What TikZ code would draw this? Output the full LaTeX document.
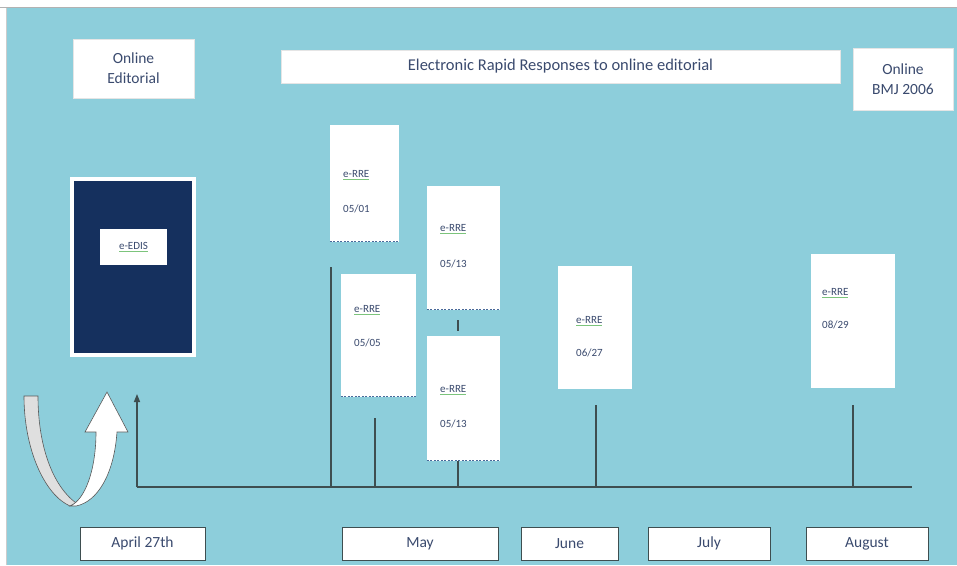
\documentclass[tikz,border=0pt]{standalone}
\usepackage{fontspec}
\setmainfont{Carlito}
\usetikzlibrary{arrows.meta}
\definecolor{bg}{HTML}{8DCEDB}
\definecolor{txt}{HTML}{3A4A6E}
\definecolor{navy}{HTML}{15305E}
\definecolor{lineg}{HTML}{3E4E50}
\definecolor{sqgreen}{HTML}{7CC47C}
\definecolor{shad}{HTML}{4A6A9A}
\newcommand\squig[1]{\setbox0\hbox{#1}\rlap{\color{sqgreen}\rule[-1.8pt]{\wd0}{0.7pt}}\box0}
\tikzset{
  lab/.style={draw=white!80!gray, line width=0.6pt, fill=white, inner sep=0pt, text=txt, font=\fontsize{15.5}{20}\selectfont, align=center},
  month/.style={draw=lineg, line width=0.8pt, fill=white, inner sep=0pt, text=txt, font=\fontsize{15.5}{18}\selectfont, minimum height=33pt},
  rre/.style={fill=white, inner sep=0pt},
  rtext/.style={anchor=west, text=txt, font=\fontsize{11}{13}\selectfont, inner sep=0pt},
  tline/.style={draw=lineg, line width=1.4pt},
  shadowline/.style={draw=shad, line width=1.2pt, dash pattern=on 2pt off 1.5pt}
}
\begin{document}
\begin{tikzpicture}[x=1pt,y=-1pt]
\useasboundingbox (0,0) rectangle (957,565);
\fill[white] (0,0) rectangle (957,565);
\fill[bg] (6,8) rectangle (957,565);
\draw[gray!60, line width=0.8pt] (0,7) -- (957,7);
\draw[gray!40, line width=0.6pt] (6,8) -- (6,565);

% header boxes
\node[lab, minimum width=121pt, minimum height=59pt] (oed) at (133.5,68.5) {Online\\Editorial};
\node[lab, minimum width=559pt, minimum height=33pt, font=\fontsize{16.5}{20}\selectfont] (err) at (560.5,66.5) {Electronic Rapid Responses to online editorial};
\node[lab, minimum width=100pt, minimum height=62pt] (bmj) at (903,79) {Online\\BMJ 2006};

% editorial block
\node[draw=white, line width=4pt, fill=navy, minimum width=122pt, minimum height=176pt, inner sep=0pt] (edis) at (133,267) {};
\node[fill=white, minimum width=67pt, minimum height=36pt, inner sep=0pt, text=txt, font=\fontsize{11}{13}\selectfont] (edislab) at (133.5,247) {\squig{e-EDIS}};

% response boxes
\node[rre, minimum width=69pt, minimum height=117pt] (r1) at (364.5,183.5) {};
\node[rre, minimum width=75pt, minimum height=123pt] (r2) at (378.5,335.5) {};
\node[rre, minimum width=73pt, minimum height=124pt] (r3) at (463.5,248) {};
\node[rre, minimum width=73pt, minimum height=125pt] (r4) at (463.5,398.5) {};
\node[rre, minimum width=74pt, minimum height=123pt] (r5) at (595,327.5) {};
\node[rre, minimum width=84pt, minimum height=134pt] (r6) at (853,321) {};
\foreach \n in {r1,r2,r3,r4}{\draw[shadowline] ([yshift=1pt]\n.south west) -- ([yshift=1pt]\n.south east);}

\node[rtext] (r1a) at (343,175) {\squig{e-RRE}};
\node[rtext] (r1b) at (343,209) {05/01};
\node[rtext] (r2a) at (354,310) {\squig{e-RRE}};
\node[rtext] (r2b) at (354,343) {05/05};
\node[rtext] (r3a) at (440,229) {\squig{e-RRE}};
\node[rtext] (r3b) at (440,264) {05/13};
\node[rtext] (r4a) at (440,390) {\squig{e-RRE}};
\node[rtext] (r4b) at (440,424) {05/13};
\node[rtext] (r5a) at (576,321) {\squig{e-RRE}};
\node[rtext] (r5b) at (576,353) {06/27};
\node[rtext] (r6a) at (822,293) {\squig{e-RRE}};
\node[rtext] (r6b) at (822,325) {08/29};

% timeline
\coordinate (t0) at (137,487);
\coordinate (tend) at (912,487);
\coordinate (tup) at (137,394);
\draw[tline] (t0) -- (tend);
\draw[tline, -{Triangle[length=8pt,width=6pt]}] (t0) -- (tup);

\coordinate (v1a) at (331,267); \coordinate (v1b) at (331,487);
\coordinate (v2a) at (375,418); \coordinate (v2b) at (375,487);
\coordinate (v3b) at (458,487);
\coordinate (v4a) at (458,320); \coordinate (v4b) at (458,331);
\coordinate (v5a) at (596,405); \coordinate (v5b) at (596,487);
\coordinate (v6a) at (853,405); \coordinate (v6b) at (853,487);
\draw[tline] (v1a) -- (v1b);
\draw[tline] (v2a) -- (v2b);
\draw[tline] (r4.south -| v3b) -- (v3b);
\draw[tline] (v4a) -- (v4b);
\draw[tline] (v5a) -- (v5b);
\draw[tline] (v6a) -- (v6b);

% curved arrow
\filldraw[fill=gray!25, draw=gray!70!black, line width=0.6pt]
  (24,396) .. controls (24,450) and (45,495) .. (70,506)
  -- (76,503) .. controls (52,485) and (38,445) .. (38,396) -- cycle;
\filldraw[fill=white, draw=gray!70!black, line width=0.6pt]
  (70,506) .. controls (85,500) and (96,470) .. (96,432)
  -- (85,432) -- (107,392) -- (128,432) -- (117,432)
  .. controls (114,475) and (97,502) .. (76,506) -- cycle;

% months
\node[month, minimum width=125pt] (apr) at (142.5,543.5) {April 27th};
\node[month, minimum width=156pt] (may) at (420,543.5) {May};
\node[month, minimum width=97pt] (jun) at (569.5,543.5) {June};
\node[month, minimum width=122pt] (jul) at (709,543.5) {July};
\node[month, minimum width=122pt] (aug) at (867,543.5) {August};
\end{tikzpicture}
\end{document}
